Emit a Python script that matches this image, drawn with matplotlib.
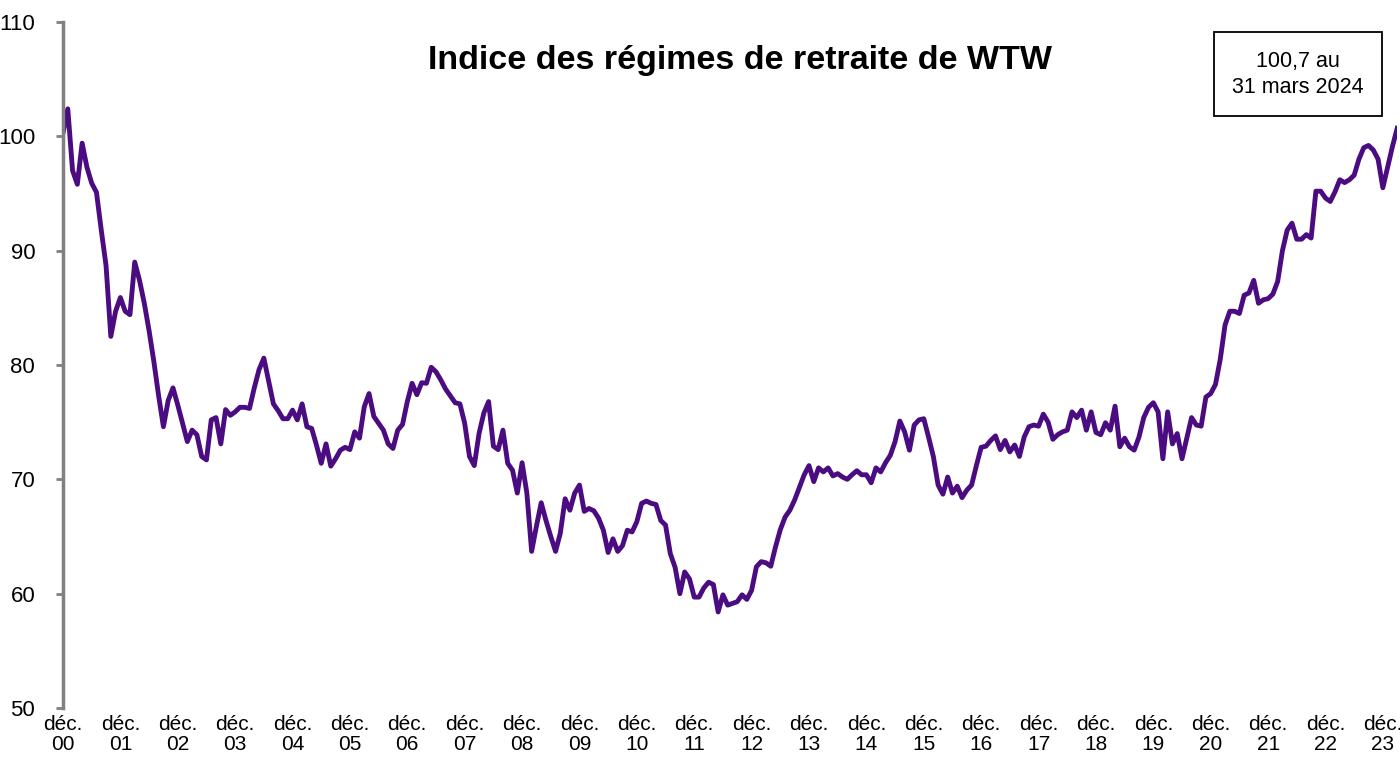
import matplotlib
matplotlib.use('Agg')
import matplotlib.pyplot as plt

plt.rcParams['font.family'] = ['Liberation Sans', 'DejaVu Sans']

# indice mensuel, déc. 2000 -> mars 2024
index_values = [
    100.3, 102.4, 97.0, 95.8, 99.4, 97.3, 95.9, 95.1, 91.8, 88.7, 82.5, 84.7,
    85.9, 84.7, 84.4, 89.0, 87.4, 85.4, 83.0, 80.3, 77.3, 74.6, 76.9, 78.0,
    76.5, 74.9, 73.3, 74.3, 73.9, 72.0, 71.7, 75.2, 75.4, 73.1, 76.1, 75.6,
    75.9, 76.3, 76.3, 76.2, 78.0, 79.6, 80.6, 78.6, 76.6, 76.0, 75.3, 75.3,
    76.05, 75.2, 76.6, 74.6, 74.45, 73.0, 71.4, 73.1, 71.15, 71.8, 72.55, 72.8,
    72.6, 74.15, 73.6, 76.35, 77.5, 75.5, 74.9, 74.3, 73.1, 72.7, 74.3, 74.8,
    76.8, 78.4, 77.4, 78.45, 78.4, 79.8, 79.4, 78.7, 77.9, 77.3, 76.7, 76.6,
    74.9, 72.0, 71.2, 74.0, 75.8, 76.8, 72.9, 72.6, 74.3, 71.4, 70.8, 68.8,
    71.45, 68.8, 63.7, 65.9, 67.95, 66.4, 65.0, 63.7, 65.3, 68.3, 67.3, 68.8,
    69.5, 67.2, 67.45, 67.25, 66.6, 65.55, 63.6, 64.8, 63.7, 64.2, 65.55, 65.4,
    66.3, 67.9, 68.1, 67.9, 67.8, 66.4, 66.0, 63.5, 62.3, 60.0, 61.9, 61.3,
    59.7, 59.7, 60.5, 61.0, 60.8, 58.4, 59.9, 59.0, 59.15, 59.3, 59.9, 59.5,
    60.3, 62.35, 62.8, 62.7, 62.4, 64.1, 65.6, 66.7, 67.3, 68.2, 69.3, 70.4,
    71.2, 69.8, 71.0, 70.65, 71.0, 70.3, 70.5, 70.2, 70.0, 70.4, 70.75, 70.4,
    70.4, 69.7, 71.0, 70.65, 71.45, 72.1, 73.3, 75.1, 74.15, 72.55, 74.75, 75.2,
    75.3, 73.7, 72.0, 69.5, 68.7, 70.2, 68.8, 69.4, 68.4, 69.05, 69.5, 71.2,
    72.8, 72.9, 73.4, 73.8, 72.6, 73.4, 72.4, 73.0, 72.0, 73.7, 74.6, 74.75,
    74.65, 75.7, 75.0, 73.5, 73.9, 74.15, 74.3, 75.9, 75.4, 76.05, 74.3, 75.9,
    74.1, 73.9, 74.95, 74.3, 76.4, 72.85, 73.6, 72.85, 72.55, 73.7, 75.4, 76.3,
    76.7, 75.9, 71.8, 75.9, 73.1, 74.0, 71.8, 73.6, 75.4, 74.75, 74.65, 77.2,
    77.5, 78.3, 80.5, 83.5, 84.7, 84.7, 84.5, 86.1, 86.3, 87.4, 85.4, 85.7,
    85.8, 86.2, 87.3, 90.0, 91.8, 92.4, 91.0, 91.0, 91.4, 91.1, 95.2, 95.2,
    94.6, 94.3, 95.15, 96.2, 95.95, 96.2, 96.6, 98.0, 99.0, 99.2, 98.8, 98.0,
    95.5, 97.3, 99.1, 100.7,
]
years = ['00', '01', '02', '03', '04', '05', '06', '07', '08', '09', '10', '11',
         '12', '13', '14', '15', '16', '17', '18', '19', '20', '21', '22', '23']
y_ticks = [50, 60, 70, 80, 90, 100, 110]

title = 'Indice des régimes de retraite de WTW'
note = '100,7 au\n31 mars 2024'

months = list(range(len(index_values)))
tick_pos = [12 * i for i in range(len(years))]
tick_labels = ['déc.\n' + y for y in years]

fig = plt.figure(figsize=(14, 7.57), dpi=100)
ax = fig.add_axes([0.045, 0.0647, 0.953, 0.9063])

ax.plot(months, index_values, color='#4b0c82', linewidth=3.5, solid_joinstyle='round')

ax.set_xlim(0, len(index_values) - 1)
ax.set_ylim(50, 110)
ax.set_yticks(y_ticks)
ax.set_yticklabels([str(v) for v in y_ticks], fontsize=16)
ax.set_xticks(tick_pos)
ax.set_xticklabels(tick_labels, fontsize=15, linespacing=1.1)

for s in ['top', 'right', 'bottom']:
    ax.spines[s].set_visible(False)
ax.spines['left'].set_color('#808080')
ax.spines['left'].set_linewidth(2.5)
ax.tick_params(axis='y', direction='out', length=5, width=2, color='#808080', pad=15)
ax.tick_params(axis='x', direction='out', length=0, pad=5)

fig.text(0.5286, 0.92, title, ha='center', va='center', fontsize=24.5, fontweight='bold')
fig.text(0.927, 0.902, note, ha='center', va='center', fontsize=15.5, linespacing=1.3,
         bbox=dict(boxstyle='square,pad=0.85', facecolor='white', edgecolor='black', linewidth=1.3))

fig.savefig('out.png', dpi=100)
